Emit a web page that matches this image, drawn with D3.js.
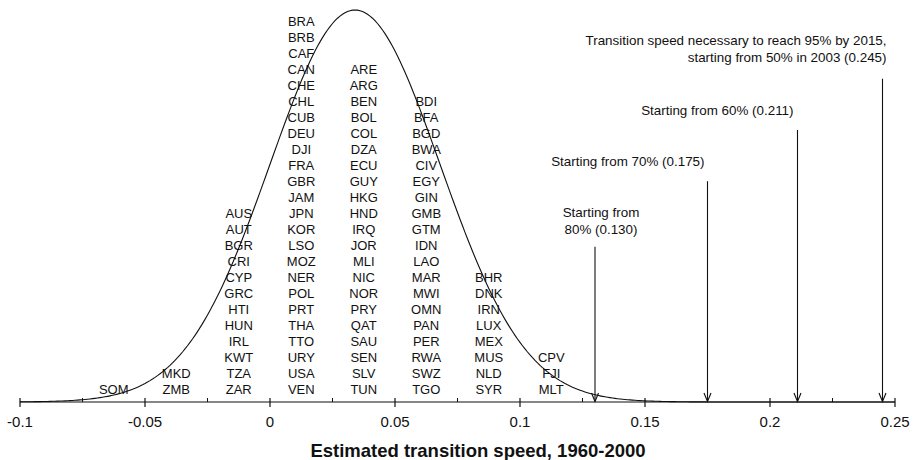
<!DOCTYPE html>
<html>
<head>
<meta charset="utf-8">
<script src="https://cdn.jsdelivr.net/npm/d3@7"></script>
<style>
  body { margin: 0; background: #fff; }
  svg { display: block; font-family: "Liberation Sans", Arial, Helvetica, sans-serif; }
</style>
</head>
<body>
<div id="chart"></div>
<script>
// bin centres of the histogram (bin width 0.025)
const binCenters = [-0.0625, -0.0375, -0.0125, 0.0125, 0.0375, 0.0625, 0.0875, 0.1125];

// countries in each bin, listed top to bottom
const bin1 = ["SOM"];
const bin2 = ["MKD", "ZMB"];
const bin3 = ["AUS", "AUT", "BGR", "CRI", "CYP", "GRC", "HTI", "HUN", "IRL", "KWT", "TZA", "ZAR"];
const bin4 = ["BRA", "BRB", "CAF", "CAN", "CHE", "CHL", "CUB", "DEU", "DJI", "FRA", "GBR", "JAM",
              "JPN", "KOR", "LSO", "MOZ", "NER", "POL", "PRT", "THA", "TTO", "URY", "USA", "VEN"];
const bin5 = ["ARE", "ARG", "BEN", "BOL", "COL", "DZA", "ECU", "GUY", "HKG", "HND", "IRQ", "JOR",
              "MLI", "NIC", "NOR", "PRY", "QAT", "SAU", "SEN", "SLV", "TUN"];
const bin6 = ["BDI", "BFA", "BGD", "BWA", "CIV", "EGY", "GIN", "GMB", "GTM", "IDN", "LAO", "MAR",
              "MWI", "OMN", "PAN", "PER", "RWA", "SWZ", "TGO"];
const bin7 = ["BHR", "DNK", "IRN", "LUX", "MEX", "MUS", "NLD", "SYR"];
const bin8 = ["CPV", "FJI", "MLT"];
const bins = [bin1, bin2, bin3, bin4, bin5, bin6, bin7, bin8];

// fitted normal curve (mean, sd, peak height in countries)
const curveMean = 0.034;
const curveSd = 0.034;
const curvePeak = 24.5;

// required transition speeds and their labels
const targetSpeeds = [0.130, 0.175, 0.211, 0.245];
const targetTops = [9.7, 13.8, 17.0, 20.2];
const targetLabels = [
  ["Starting from", "80% (0.130)"],
  ["Starting from 70% (0.175)"],
  ["Starting from 60% (0.211)"],
  ["Transition speed necessary to reach 95% by 2015,", "starting from 50% in 2003 (0.245)"]
];

const xTicks = [-0.1, -0.05, 0, 0.05, 0.1, 0.15, 0.2, 0.25];
const xTitle = "Estimated transition speed, 1960-2000";

const width = 917, height = 460;
const axisY = 402;

const svg = d3.select("#chart").append("svg")
  .attr("width", width)
  .attr("height", height);

const x = d3.scaleLinear().domain([-0.1, 0.25]).range([20, 895]);
const y = d3.scaleLinear().domain([0, 25]).range([axisY, 2]);

// country labels stacked in their bins
const cells = [];
bins.forEach((names, i) => {
  names.slice().reverse().forEach((name, row) => {
    cells.push({ name: name, center: binCenters[i], row: row });
  });
});

svg.append("g")
  .selectAll("text")
  .data(cells)
  .enter().append("text")
  .attr("x", d => x(d.center))
  .attr("y", d => y(d.row) - 8)
  .attr("text-anchor", "middle")
  .style("font-size", "13px")
  .style("fill", "#111")
  .text(d => d.name);

// normal curve
const curvePts = d3.range(-0.1, 0.2501, 0.001).map(v => {
  const z = (v - curveMean) / curveSd;
  return [v, curvePeak * Math.exp(-0.5 * z * z)];
});

svg.append("path")
  .datum(curvePts)
  .attr("fill", "none")
  .attr("stroke", "#111")
  .attr("stroke-width", 1.1)
  .attr("d", d3.line().x(d => x(d[0])).y(d => y(d[1])));

// x axis
const axisG = svg.append("g");
axisG.append("line")
  .attr("x1", x(-0.1)).attr("x2", x(0.25))
  .attr("y1", axisY).attr("y2", axisY)
  .attr("stroke", "#111").attr("stroke-width", 1.2);

axisG.selectAll("line.major")
  .data(xTicks)
  .enter().append("line")
  .attr("class", "major")
  .attr("x1", d => x(d)).attr("x2", d => x(d))
  .attr("y1", axisY - 4).attr("y2", axisY + 5)
  .attr("stroke", "#111").attr("stroke-width", 1.2);

axisG.selectAll("line.minor")
  .data(xTicks.slice(0, -1).map(d => d + 0.025))
  .enter().append("line")
  .attr("class", "minor")
  .attr("x1", d => x(d)).attr("x2", d => x(d))
  .attr("y1", axisY - 4).attr("y2", axisY)
  .attr("stroke", "#111").attr("stroke-width", 1);

axisG.selectAll("text")
  .data(xTicks)
  .enter().append("text")
  .attr("x", d => x(d))
  .attr("y", 427)
  .attr("text-anchor", "middle")
  .style("font-size", "15px")
  .style("fill", "#111")
  .text(d => String(+d.toFixed(3)));

svg.append("text")
  .attr("x", 478)
  .attr("y", 457)
  .attr("text-anchor", "middle")
  .style("font-size", "18.5px")
  .style("font-weight", "bold")
  .style("fill", "#111")
  .text(xTitle);

// arrows for the required speeds
const arrows = svg.append("g");
targetSpeeds.forEach((s, i) => {
  const ax = x(s);
  arrows.append("line")
    .attr("x1", ax).attr("x2", ax)
    .attr("y1", y(targetTops[i])).attr("y2", axisY - 0.5)
    .attr("stroke", "#111").attr("stroke-width", 1.1);
  arrows.append("path")
    .attr("d", `M${ax - 3.5},${axisY - 9} L${ax},${axisY - 0.5} L${ax + 3.5},${axisY - 9}`)
    .attr("fill", "none")
    .attr("stroke", "#111").attr("stroke-width", 1.1);
});

// annotation labels
const labelPos = [
  { dx: 6, anchor: "middle", base: 217 },
  { dx: -3, anchor: "end", base: 166 },
  { dx: -4, anchor: "end", base: 115 },
  { dx: 4, anchor: "end", base: 45 }
];
targetLabels.forEach((lines, i) => {
  const p = labelPos[i];
  lines.forEach((t, j) => {
    svg.append("text")
      .attr("x", x(targetSpeeds[i]) + p.dx)
      .attr("y", p.base + j * 16.5)
      .attr("text-anchor", p.anchor)
      .style("font-size", "13.4px")
      .style("fill", "#111")
      .text(t);
  });
});
</script>
</body>
</html>
